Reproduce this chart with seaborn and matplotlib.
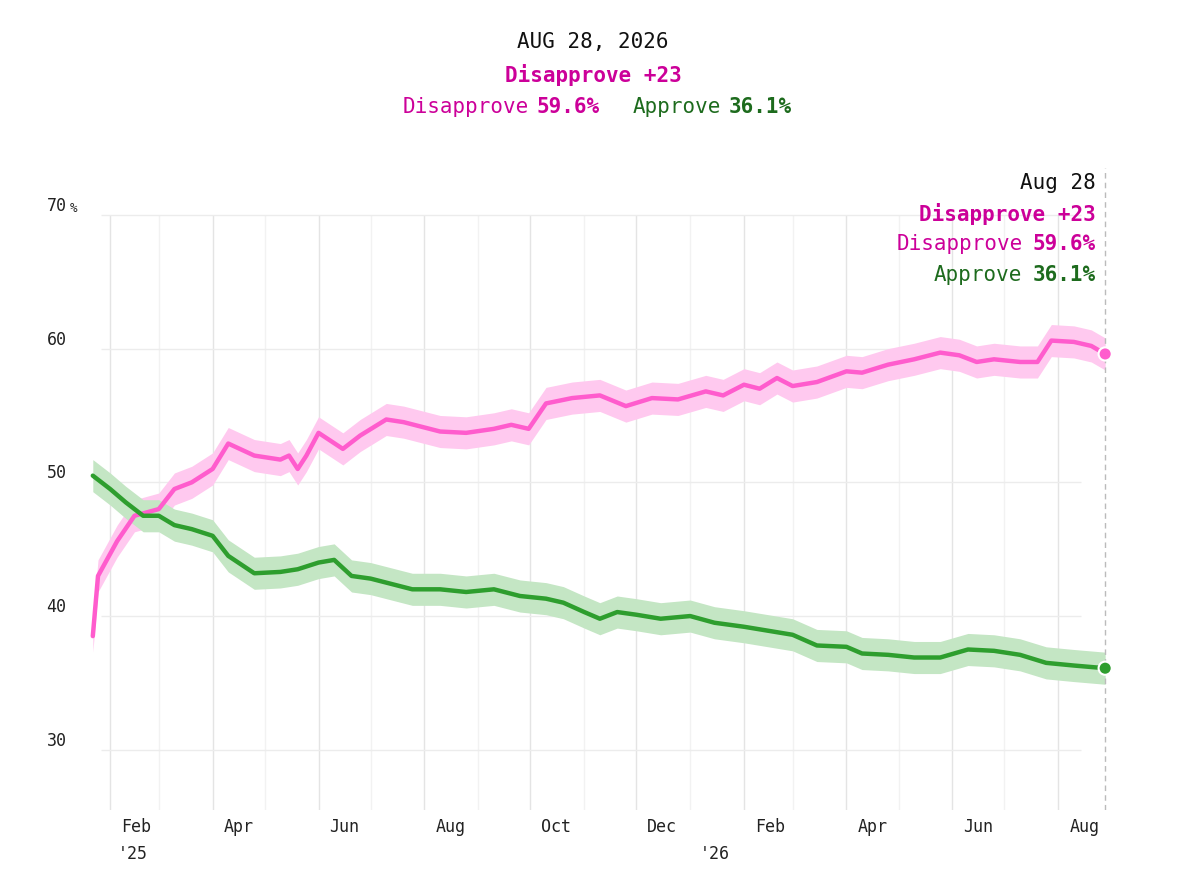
import matplotlib
matplotlib.use("Agg")
import numpy as np
import pandas as pd
import seaborn as sns
import matplotlib.pyplot as plt
import matplotlib.dates as mdates

# approximate values
dis_dates = ["2025-01-22", "2025-01-25", "2025-02-05", "2025-02-15", "2025-03-01", "2025-03-10",
             "2025-03-20", "2025-04-01", "2025-04-10", "2025-04-25", "2025-05-10", "2025-05-15",
             "2025-05-20", "2025-05-25", "2025-06-01", "2025-06-15", "2025-06-25", "2025-07-10",
             "2025-07-20", "2025-08-10", "2025-08-25", "2025-09-10", "2025-09-20", "2025-09-30",
             "2025-10-10", "2025-10-25", "2025-11-10", "2025-11-25", "2025-12-10", "2025-12-25",
             "2026-01-10", "2026-01-20", "2026-02-01", "2026-02-10", "2026-02-20", "2026-03-01",
             "2026-03-15", "2026-04-01", "2026-04-10", "2026-04-25", "2026-05-10", "2026-05-25",
             "2026-06-05", "2026-06-15", "2026-06-25", "2026-07-10", "2026-07-20", "2026-07-28",
             "2026-08-10", "2026-08-20", "2026-08-28"]
dis_vals = [38.5, 43.0, 45.6, 47.5, 48.0, 49.5, 50.0, 51.0, 52.9, 52.0, 51.7, 52.0,
            51.0, 52.0, 53.7, 52.5, 53.5, 54.7, 54.5, 53.8, 53.7, 54.0, 54.3, 54.0,
            55.9, 56.3, 56.5, 55.7, 56.3, 56.2, 56.8, 56.5, 57.3, 57.0, 57.8, 57.2,
            57.5, 58.3, 58.2, 58.8, 59.2, 59.7, 59.5, 59.0, 59.2, 59.0, 59.0, 60.6,
            60.5, 60.2, 59.6]

app_dates = ["2025-01-22", "2025-02-01", "2025-02-10", "2025-02-20", "2025-03-01", "2025-03-10",
             "2025-03-20", "2025-04-01", "2025-04-10", "2025-04-25", "2025-05-10", "2025-05-20",
             "2025-06-01", "2025-06-10", "2025-06-20", "2025-07-01", "2025-07-10", "2025-07-25",
             "2025-08-10", "2025-08-25", "2025-09-10", "2025-09-25", "2025-10-10", "2025-10-20",
             "2025-11-01", "2025-11-10", "2025-11-20", "2025-12-01", "2025-12-15", "2026-01-01",
             "2026-01-15", "2026-02-01", "2026-02-15", "2026-03-01", "2026-03-15", "2026-04-01",
             "2026-04-10", "2026-04-25", "2026-05-10", "2026-05-25", "2026-06-10", "2026-06-25",
             "2026-07-10", "2026-07-25", "2026-08-10", "2026-08-28"]
app_vals = [50.5, 49.5, 48.5, 47.5, 47.5, 46.8, 46.5, 46.0, 44.5, 43.2, 43.3, 43.5,
            44.0, 44.2, 43.0, 42.8, 42.5, 42.0, 42.0, 41.8, 42.0, 41.5, 41.3, 41.0,
            40.3, 39.8, 40.3, 40.1, 39.8, 40.0, 39.5, 39.2, 38.9, 38.6, 37.8, 37.7,
            37.2, 37.1, 36.9, 36.9, 37.5, 37.4, 37.1, 36.5, 36.3, 36.1]

band = 1.2
PINK, PINK_BAND, PINK_TXT = "#ff5ccd", "#ffc9ef", "#cc0099"
GREEN, GREEN_BAND, GREEN_TXT = "#2e9e2e", "#c4e6c4", "#1d6b1d"

dis = pd.DataFrame({"date": pd.to_datetime(dis_dates), "value": dis_vals, "series": "Disapprove"})
app = pd.DataFrame({"date": pd.to_datetime(app_dates), "value": app_vals, "series": "Approve"})
df = pd.concat([dis, app], ignore_index=True)

sns.set_theme(style="white")
plt.rcParams["font.family"] = ["DejaVu Sans Mono"]

fig = plt.figure(figsize=(11.86, 8.94), dpi=100)
ax = fig.add_axes([0.068, 0.094, 0.8697, 0.718])

x0, x1 = pd.Timestamp("2025-01-15"), pd.Timestamp("2026-09-01")
ymin, ymax = 25.5, 73.5

# grid
for m in pd.date_range("2025-02-01", "2026-08-01", freq="MS"):
    major = (m.month % 2 == 0)
    ax.vlines(m, ymin, 70, color="#e4e4e4" if major else "#f2f2f2", lw=1, zorder=0)
for y in [30, 40, 50, 60, 70]:
    ax.hlines(y, pd.Timestamp("2025-01-27"), pd.Timestamp("2026-08-14"), color="#ececec", lw=1, zorder=0)

for d, c, b in [(dis, PINK, PINK_BAND), (app, GREEN, GREEN_BAND)]:
    ax.fill_between(d["date"], d["value"] - band, d["value"] + band, color=b, lw=0, zorder=1)

sns.lineplot(data=df, x="date", y="value", hue="series", palette={"Disapprove": PINK, "Approve": GREEN},
             lw=3.2, legend=False, ax=ax, zorder=2)

end = pd.Timestamp("2026-08-28")
ax.scatter([end, end], [dis_vals[-1], app_vals[-1]], color=[PINK, GREEN], s=90,
           edgecolor="white", linewidth=1.5, zorder=3)
ax.vlines(end, ymin, 73.5, color="#bbbbbb", lw=1, ls=(0, (4, 3)), zorder=1)

ax.set_xlim(x0, x1)
ax.set_ylim(ymin, ymax)
for s in ax.spines.values():
    s.set_visible(False)
ax.set_yticks([])
ax.set_xticks([])
ax.set_xlabel("")
ax.set_ylabel("")

# y labels
for y in [30, 40, 50, 60]:
    ax.text(-0.033, y, str(y), transform=ax.get_yaxis_transform(), ha="left", va="bottom", fontsize=12, color="#222")
ax.text(-0.033, 70, "70", transform=ax.get_yaxis_transform(), ha="left", va="bottom", fontsize=12, color="#222")
ax.text(-0.011, 70, "%", transform=ax.get_yaxis_transform(), ha="left", va="bottom", fontsize=9, color="#222")

# x labels
names = {2: "Feb", 4: "Apr", 6: "Jun", 8: "Aug", 10: "Oct", 12: "Dec"}
for m in pd.date_range("2025-02-01", "2026-08-01", freq="2MS"):
    ax.text(m + pd.Timedelta(days=15), ymin - 1.3, names[m.month], ha="center", va="center", fontsize=12, color="#222")
ax.text(pd.Timestamp("2025-02-14"), ymin - 3.3, "'25", ha="center", va="center", fontsize=12, color="#222")
ax.text(pd.Timestamp("2026-01-15"), ymin - 3.3, "'26", ha="center", va="center", fontsize=12, color="#222")

# top header
fig.text(0.5, 0.953, "AUG 28, 2026", ha="center", va="center", fontsize=15, color="#111")
fig.text(0.5, 0.916, "Disapprove +23", ha="center", va="center", fontsize=15, color=PINK_TXT, weight="bold")
fig.text(0.446, 0.880, "Disapprove", ha="right", va="center", fontsize=15, color=PINK_TXT)
fig.text(0.452, 0.880, "59.6%", ha="left", va="center", fontsize=15, color=PINK_TXT, weight="bold")
fig.text(0.608, 0.880, "Approve", ha="right", va="center", fontsize=15, color=GREEN_TXT)
fig.text(0.614, 0.880, "36.1%", ha="left", va="center", fontsize=15, color=GREEN_TXT, weight="bold")

# right annotation
xr = 1096 / 1186
fig.text(xr, 0.795, "Aug 28", ha="right", va="center", fontsize=15, color="#111")
fig.text(xr, 0.761, "Disapprove +23", ha="right", va="center", fontsize=15, color=PINK_TXT, weight="bold")
fig.text(xr - 0.062, 0.727, "Disapprove", ha="right", va="center", fontsize=15, color=PINK_TXT)
fig.text(xr, 0.727, "59.6%", ha="right", va="center", fontsize=15, color=PINK_TXT, weight="bold")
fig.text(xr - 0.062, 0.692, "Approve", ha="right", va="center", fontsize=15, color=GREEN_TXT)
fig.text(xr, 0.692, "36.1%", ha="right", va="center", fontsize=15, color=GREEN_TXT, weight="bold")

fig.savefig("out.png", dpi=100, facecolor="white")
